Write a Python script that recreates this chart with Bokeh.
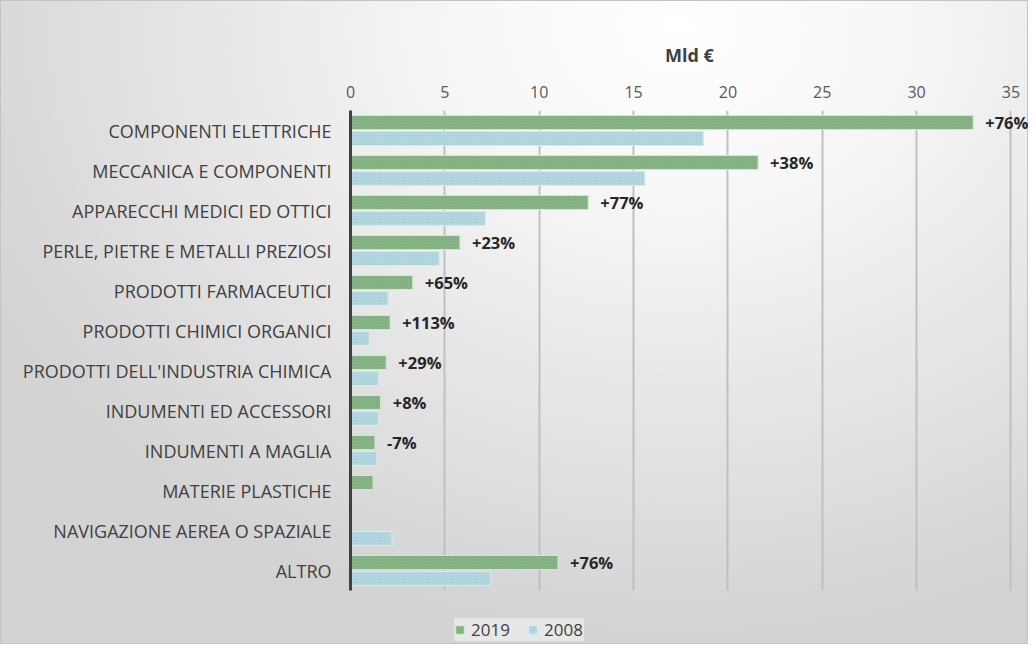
from bokeh.plotting import figure
from bokeh.models import ColumnDataSource, Legend, LegendItem, Range1d, FixedTicker
from bokeh.transform import dodge
from bokeh.core.properties import value
from bokeh.embed import file_html
from bokeh.resources import INLINE

categories = [
    "COMPONENTI ELETTRICHE",
    "MECCANICA E COMPONENTI",
    "APPARECCHI MEDICI ED OTTICI",
    "PERLE, PIETRE E METALLI PREZIOSI",
    "PRODOTTI FARMACEUTICI",
    "PRODOTTI CHIMICI ORGANICI",
    "PRODOTTI DELL'INDUSTRIA CHIMICA",
    "INDUMENTI ED ACCESSORI",
    "INDUMENTI A MAGLIA",
    "MATERIE PLASTICHE",
    "NAVIGAZIONE AEREA O SPAZIALE",
    "ALTRO",
]
values_2019 = [33.0, 21.6, 12.6, 5.8, 3.3, 2.1, 1.9, 1.6, 1.3, 1.2, 0.0, 11.0]
values_2008 = [18.7, 15.6, 7.15, 4.7, 2.0, 1.0, 1.5, 1.5, 1.4, 0.0, 2.2, 7.45]
change_labels = ["+76%", "+38%", "+77%", "+23%", "+65%", "+113%", "+29%", "+8%", "-7%", "", "", "+76%"]
x_ticks = [0, 5, 10, 15, 20, 25, 30, 35]

FONT = "Open Sans"

# category slots: first category on top
n = len(categories)
slot = [n - 1 - i + 0.5 for i in range(n)]

src = ColumnDataSource(dict(slot=slot, cat=categories, v19=values_2019, v08=values_2008))
lab_idx = [i for i, l in enumerate(change_labels) if l]
lab_src = ColumnDataSource(dict(
    slot=[slot[i] for i in lab_idx],
    v19=[values_2019[i] for i in lab_idx],
    lab=[change_labels[i] for i in lab_idx],
))

p = figure(
    width=1028, height=644,
    y_range=Range1d(-1.35, n),
    x_range=Range1d(0, 35.93),
    x_axis_location="above",
    output_backend="svg", toolbar_location=None,
    min_border_left=350, min_border_right=0, min_border_top=110, min_border_bottom=0,
)
p.styles = {
    "background": "radial-gradient(ellipse 75% 95% at 66% 4%, #ffffff 0%, #f6f6f6 30%, #e6e6e6 62%, #d3d3d3 100%)",
    "box-shadow": "inset 0 0 0 1px #c4c4c4",
}
p.background_fill_color = None
p.border_fill_color = None
p.outline_line_color = None

# vertical grid lines, limited to the category area
grid_ok = True
try:
    p.xgrid.cross_bounds = (0, n)
except Exception:
    grid_ok = False
if grid_ok:
    p.xgrid.grid_line_color = "#c0c0c0"
    p.xgrid.grid_line_width = 2
else:
    p.xgrid.grid_line_color = None
    gsrc = ColumnDataSource(dict(x=x_ticks, y0=[0] * len(x_ticks), y1=[n] * len(x_ticks)))
    p.segment(x0="x", x1="x", y0="y0", y1="y1", source=gsrc, line_color="#c0c0c0", line_width=2, level="underlay")
p.ygrid.grid_line_color = None

r19 = p.hbar(y=dodge("slot", 0.2), right="v19", left=0, height=0.35, source=src,
             fill_color="#8ab78a", line_color="#d2e6d2", line_width=1.2,
             hatch_pattern="diagonal_cross", hatch_scale=3, hatch_weight=0.6,
             hatch_color="#5e8f5e", hatch_alpha=0.4)
r08 = p.hbar(y=dodge("slot", -0.2), right="v08", left=0, height=0.35, source=src,
             fill_color="#acd3dc", line_color="#d6ebf0", line_width=1.2,
             hatch_pattern="dot", hatch_scale=3, hatch_weight=0.8,
             hatch_color="#d2e8ee", hatch_alpha=0.7)

p.text(x="v19", y=dodge("slot", 0.2), text="lab", source=lab_src,
       x_offset=12, text_align="left", text_baseline="middle",
       text_font=value(FONT), text_font_style="bold", text_font_size="16.5px", text_color="#262626")

p.xaxis.ticker = x_ticks
p.xaxis.axis_label = "Mld €"
p.xaxis.axis_label_text_font = FONT
p.xaxis.axis_label_text_font_style = "bold"
p.xaxis.axis_label_text_font_size = "18px"
p.xaxis.axis_label_text_color = "#404040"
p.xaxis.axis_label_standoff = 16
p.xaxis.axis_line_color = None
p.xaxis.major_tick_line_color = None
p.xaxis.minor_tick_line_color = None
p.xaxis.major_label_text_font = FONT
p.xaxis.major_label_text_font_size = "16px"
p.xaxis.major_label_text_color = "#595959"
p.xaxis.major_label_standoff = 7

p.yaxis.ticker = FixedTicker(ticks=slot)
p.yaxis.major_label_overrides = {s: c for s, c in zip(slot, categories)}
p.yaxis.bounds = (0, n)
p.yaxis.axis_line_color = "#404040"
p.yaxis.axis_line_width = 3
p.yaxis.major_tick_line_color = None
p.yaxis.minor_tick_line_color = None
p.yaxis.major_label_text_font = FONT
p.yaxis.major_label_text_font_size = "18px"
p.yaxis.major_label_text_color = "#404040"
p.yaxis.major_label_standoff = 13

legend = Legend(items=[LegendItem(label="2019", renderers=[r19]), LegendItem(label="2008", renderers=[r08])],
                orientation="horizontal", location=(104, 3))
legend.label_text_font = FONT
legend.label_text_font_size = "17px"
legend.label_text_color = "#404040"
legend.label_standoff = 6
legend.label_width = 40
legend.label_height = 20
legend.glyph_width = 11
legend.glyph_height = 11
legend.spacing = 16
legend.padding = 9
legend.margin = 0
legend.background_fill_color = "#eaeaea"
legend.background_fill_alpha = 0.85
legend.border_line_color = None
p.add_layout(legend, "center")

open("out.html", "w").write(file_html(p, INLINE))
